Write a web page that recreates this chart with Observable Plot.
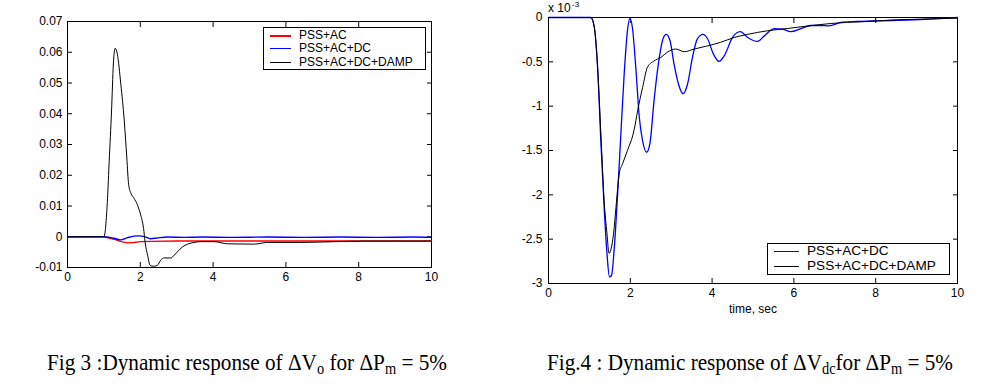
<!DOCTYPE html>
<html><head><meta charset="utf-8">
<script src="https://cdn.jsdelivr.net/npm/d3@7"></script>
<script src="https://cdn.jsdelivr.net/npm/@observablehq/plot@0.6"></script>
<style>
html,body{margin:0;padding:0;background:#fff;}
#wrap{position:relative;width:992px;height:386px;overflow:hidden;font-family:Arial,"Liberation Sans",sans-serif;color:#000;}
.plotbox{position:absolute;}
.leg{position:absolute;border:1px solid #000;background:#fff;box-sizing:border-box;}
.leg .row{position:absolute;white-space:nowrap;line-height:1;}
.leg .sw{position:absolute;}
.cap{position:absolute;font-family:"Liberation Serif","Times New Roman",serif;font-size:24px;white-space:nowrap;line-height:24px;transform-origin:0 0;}
.cap sub{font-size:0.68em;vertical-align:-0.22em;line-height:0;}
</style>
</head>
<body>
<div id="wrap"></div>
<script>
// ---------- Fig 3 data (ΔVo) ----------
const fig3XTicks = [0, 2, 4, 6, 8, 10];
const fig3YTicks = [-0.01, 0, 0.01, 0.02, 0.03, 0.04, 0.05, 0.06, 0.07];
const fig3Labels = ["PSS+AC", "PSS+AC+DC", "PSS+AC+DC+DAMP"];
const fig3Colors = ["#ff0000", "#0000ff", "#000000"];

const fig3AcT = [0, 1.0, 1.28, 1.47, 1.65, 1.83, 2.0, 2.29, 3.0, 5.0, 10];
const fig3AcV = [0, 0, -0.0008, -0.0016, -0.0020, -0.00185, -0.0016, -0.0015, -0.0014, -0.0014, -0.0014];

const fig3DcT = [0, 1.0, 1.28, 1.47, 1.65, 1.83, 1.97, 2.15, 2.29, 2.47, 2.75, 3.2, 3.7, 4.5, 5.5, 6.5, 7.5, 8.5, 9.5, 10];
const fig3DcV = [0, 0, -0.0005, -0.0010, -0.0003, 0.0002, 0.0003, -0.0001, -0.00065, -0.0004, -0.0001, -0.0002, -0.0001, -0.0002, -0.0001, -0.0002, -0.0001, -0.0002, -0.0001, -0.0002];

const fig3DampT = [0, 1.0, 1.10, 1.145, 1.21, 1.26, 1.31, 1.37, 1.465, 1.56, 1.63, 1.68, 1.74, 1.83, 1.92, 2.01, 2.09, 2.13, 2.20, 2.27, 2.36, 2.47, 2.56, 2.66, 2.84, 2.93, 3.02, 3.16, 3.30, 3.48, 3.66, 4.03, 4.40, 5.13, 5.49, 6.41, 7.33, 8.24, 10];
const fig3DampV = [0, 0, 0.0125, 0.0245, 0.0409, 0.0562, 0.0613, 0.0594, 0.0496, 0.0376, 0.0256, 0.0169, 0.0142, 0.0125, 0.0104, 0.0071, 0.0027, -0.0016, -0.0060, -0.0093, -0.0096, -0.0093, -0.0076, -0.0069, -0.0069, -0.0060, -0.0049, -0.0033, -0.0024, -0.00185, -0.0016, -0.0016, -0.0023, -0.0024, -0.00185, -0.00185, -0.0016, -0.0014, -0.0014];

// ---------- Fig 4 data (ΔVdc, x 10^-3) ----------
const fig4XTicks = [0, 2, 4, 6, 8, 10];
const fig4YTicks = [-3, -2.5, -2, -1.5, -1, -0.5, 0];
const fig4Labels = ["PSS+AC+DC", "PSS+AC+DC+DAMP"];
const fig4Colors = ["#0000ff", "#000000"];

const fig4DcT = [0, 1.035, 1.12, 1.20, 1.28, 1.36, 1.43, 1.49, 1.54, 1.61, 1.69, 1.77, 1.85, 1.93, 1.99, 2.05, 2.14, 2.22, 2.30, 2.40, 2.48, 2.58, 2.71, 2.80, 2.88, 2.97, 3.07, 3.19, 3.29, 3.40, 3.52, 3.64, 3.78, 3.89, 4.03, 4.17, 4.30, 4.50, 4.69, 4.87, 5.11, 5.27, 5.52, 5.72, 5.92, 6.17, 6.41, 6.66, 6.86, 7.15, 7.55, 8.12, 8.94, 9.76, 10];
const fig4DcV = [0, 0, -0.11, -0.56, -1.39, -2.14, -2.66, -2.925, -2.91, -2.59, -1.99, -1.31, -0.64, -0.15, -0.01, -0.11, -0.6, -1.125, -1.39, -1.52, -1.42, -0.94, -0.45, -0.24, -0.19, -0.26, -0.525, -0.77, -0.86, -0.75, -0.45, -0.24, -0.19, -0.24, -0.41, -0.495, -0.43, -0.225, -0.16, -0.225, -0.27, -0.21, -0.125, -0.13, -0.16, -0.125, -0.09, -0.09, -0.095, -0.056, -0.045, -0.037, -0.026, -0.008, 0];

const fig4DampT = [0, 1.035, 1.12, 1.20, 1.28, 1.36, 1.43, 1.48, 1.53, 1.59, 1.65, 1.73, 1.81, 1.93, 2.09, 2.18, 2.30, 2.42, 2.58, 2.75, 2.91, 3.11, 3.32, 3.56, 3.89, 4.21, 4.54, 4.87, 5.35, 5.84, 6.37, 6.90, 7.72, 8.53, 9.35, 10];
const fig4DampV = [0, 0, -0.11, -0.56, -1.31, -2.06, -2.44, -2.66, -2.61, -2.44, -2.14, -1.76, -1.65, -1.5, -1.275, -1.05, -0.79, -0.56, -0.49, -0.45, -0.39, -0.356, -0.386, -0.356, -0.32, -0.28, -0.225, -0.19, -0.15, -0.124, -0.094, -0.068, -0.045, -0.026, -0.015, -0.008];

const rows = (ts, vs) => ts.map((t, i) => ({t, v: vs[i]}));
const fmt = d => String(+d.toFixed(3));
const wrap = document.getElementById("wrap");
const baseStyle = {fontFamily: "Arial, 'Liberation Sans', sans-serif", fontSize: "12px", background: "white", color: "black", overflow: "visible"};

function frameAxes(xt, yt, padY) {
  return [
    Plot.frame({stroke: "#000"}),
    Plot.axisX({ticks: xt, tickSize: 0, tickPadding: 5, tickFormat: fmt, label: null}),
    Plot.axisX({anchor: "bottom", ticks: xt, tickSize: -5, fill: "none", label: null}),
    Plot.axisX({anchor: "top", ticks: xt, tickSize: -5, fill: "none", label: null}),
    Plot.axisY({ticks: yt, tickSize: 0, tickPadding: padY, tickFormat: fmt, label: null}),
    Plot.axisY({anchor: "left", ticks: yt, tickSize: -5, fill: "none", label: null}),
    Plot.axisY({anchor: "right", ticks: yt, tickSize: -5, fill: "none", label: null})
  ];
}

// Left chart
const p3 = Plot.plot({
  width: 450, height: 290,
  marginLeft: 67, marginRight: 19, marginTop: 21, marginBottom: 23,
  x: {domain: [0, 10]}, y: {domain: [-0.01, 0.07]},
  style: baseStyle,
  marks: [
    ...frameAxes(fig3XTicks, fig3YTicks, 5),
    Plot.line(rows(fig3AcT, fig3AcV), {x: "t", y: "v", stroke: fig3Colors[0], strokeWidth: 1.4}),
    Plot.line(rows(fig3DcT, fig3DcV), {x: "t", y: "v", stroke: fig3Colors[1], strokeWidth: 1.4, curve: "monotone-x"}),
    Plot.line(rows(fig3DampT, fig3DampV), {x: "t", y: "v", stroke: fig3Colors[2], strokeWidth: 1, curve: "monotone-x"})
  ]
});
const b3 = document.createElement("div");
b3.className = "plotbox"; b3.style.left = "0px"; b3.style.top = "0px";
b3.appendChild(p3); wrap.appendChild(b3);

// Right chart
const p4 = Plot.plot({
  width: 512, height: 320,
  marginLeft: 68, marginRight: 35, marginTop: 17, marginBottom: 37,
  x: {domain: [0, 10]}, y: {domain: [-3, 0]},
  style: baseStyle,
  marks: [
    ...frameAxes(fig4XTicks, fig4YTicks, 6),
    Plot.axisX({ticks: [], tickSize: 0, label: "time, sec", labelAnchor: "center", labelArrow: "none", labelOffset: 29}),
    Plot.line(rows(fig4DcT, fig4DcV), {x: "t", y: "v", stroke: fig4Colors[0], strokeWidth: 1.3, curve: "monotone-x"}),
    Plot.line(rows(fig4DampT, fig4DampV), {x: "t", y: "v", stroke: fig4Colors[1], strokeWidth: 1, curve: "monotone-x"})
  ]
});
const b4 = document.createElement("div");
b4.className = "plotbox"; b4.style.left = "480px"; b4.style.top = "0px";
b4.appendChild(p4); wrap.appendChild(b4);

// Legends
function legend(left, top, w, h, labels, colors, fontSize, rowTops, swX, swW, txX, swH) {
  const L = document.createElement("div");
  L.className = "leg";
  Object.assign(L.style, {left: left + "px", top: top + "px", width: w + "px", height: h + "px", fontSize: fontSize + "px"});
  labels.forEach((lab, i) => {
    const sw = document.createElement("div");
    sw.className = "sw";
    Object.assign(sw.style, {left: swX + "px", width: swW + "px", top: (rowTops[i]) + "px", height: swH[i] + "px", background: colors[i]});
    L.appendChild(sw);
    const r = document.createElement("div");
    r.className = "row";
    r.textContent = lab;
    Object.assign(r.style, {left: txX + "px", top: (rowTops[i] - fontSize * 0.5) + "px"});
    L.appendChild(r);
  });
  wrap.appendChild(L);
}
legend(263, 27, 163, 43, fig3Labels, fig3Colors, 12, [7, 20, 34], 6, 21, 35, [2, 1, 1]);
legend(767, 243, 183, 32, fig4Labels, fig4Colors, 13.6, [7, 22], 6, 25, 39, [1, 1]);

// Exponent label
const ex = document.createElement("div");
ex.style.position = "absolute"; ex.style.left = "548px"; ex.style.top = "1px";
ex.style.fontSize = "12px"; ex.style.whiteSpace = "nowrap"; ex.style.lineHeight = "14px";
ex.innerHTML = "x 10<span style=\"position:absolute;left:24px;top:-1px;font-size:8px;line-height:9px\">-3</span>";
wrap.appendChild(ex);

// Captions
const c1 = document.createElement("div");
c1.className = "cap"; c1.style.left = "47px"; c1.style.top = "350px";
c1.innerHTML = "Fig 3 :Dynamic response of ΔV<sub>o</sub> for ΔP<sub>m</sub> = 5%";
wrap.appendChild(c1);
const c2 = document.createElement("div");
c2.className = "cap"; c2.style.left = "547px"; c2.style.top = "350px";
c2.innerHTML = "Fig.4 : Dynamic response of ΔV<sub>dc</sub>for ΔP<sub>m</sub> = 5%";
wrap.appendChild(c2);
// fit captions to reference widths
[[c1, 400], [c2, 406]].forEach(([el, target]) => {
  const w = el.getBoundingClientRect().width;
  el.style.transform = "scaleX(" + (target / w) + ")";
});
</script>
</body></html>
